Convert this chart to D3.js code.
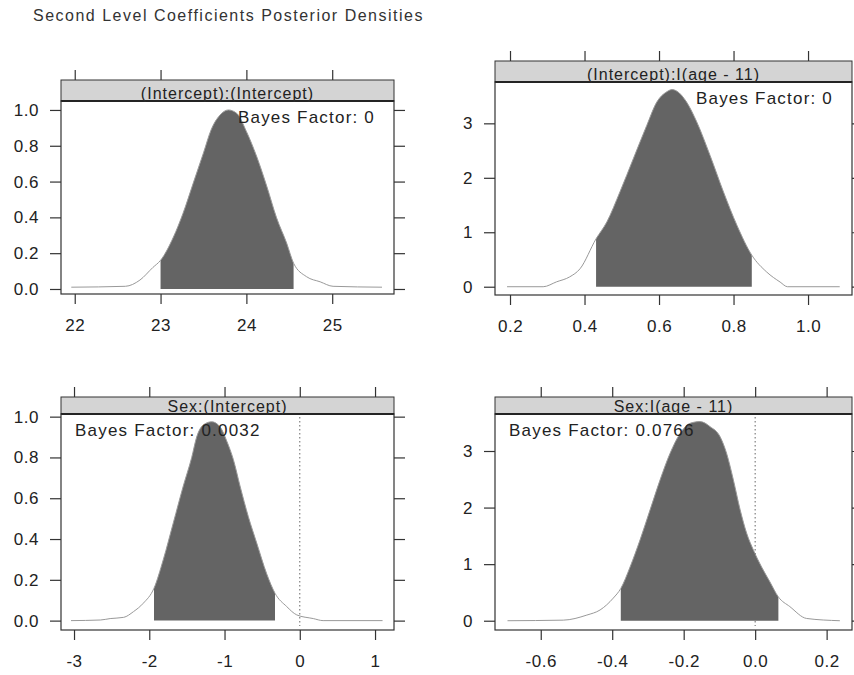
<!DOCTYPE html>
<html>
<head>
<meta charset="utf-8">
<script src="https://cdn.jsdelivr.net/npm/d3@7"></script>
<style>
  body { margin: 0; background: #fff; }
  svg text { font-family: "Liberation Sans", Arial, sans-serif; }
</style>
</head>
<body>
<script>
// posterior densities of the second level coefficients

var chartTitle = 'Second Level Coefficients Posterior Densities';

var stripLabels = ['(Intercept):(Intercept)', '(Intercept):I(age - 11)', 'Sex:(Intercept)', 'Sex:I(age - 11)'];
var bayesLabels = ['Bayes Factor: 0', 'Bayes Factor: 0', 'Bayes Factor: 0.0032', 'Bayes Factor: 0.0766'];

var xTicks1 = [22, 23, 24, 25];
var yTicks1 = [0, 0.2, 0.4, 0.6, 0.8, 1.0];
var dens1X = [21.96, 22.59, 22.76, 22.91, 23.0, 23.15, 23.26, 23.38, 23.50, 23.59, 23.69, 23.79, 23.89, 24.0, 24.12, 24.24, 24.35, 24.47, 24.55, 24.70, 24.86, 25.01, 25.58];
var dens1Y = [0.01, 0.015, 0.05, 0.12, 0.16, 0.29, 0.42, 0.59, 0.76, 0.89, 0.97, 1.0, 0.98, 0.88, 0.74, 0.57, 0.40, 0.255, 0.144, 0.069, 0.04, 0.015, 0.01];
var hpd1 = [23.0, 24.55];

var xTicks2 = [0.2, 0.4, 0.6, 0.8, 1.0];
var yTicks2 = [0, 1, 2, 3];
var dens2X = [0.192, 0.289, 0.325, 0.36, 0.388, 0.431, 0.46, 0.495, 0.531, 0.567, 0.594, 0.621, 0.635, 0.648, 0.674, 0.701, 0.737, 0.773, 0.809, 0.849, 0.889, 0.925, 0.945, 1.085];
var dens2Y = [0, 0, 0.09, 0.18, 0.33, 0.88, 1.19, 1.74, 2.35, 2.96, 3.39, 3.58, 3.62, 3.59, 3.39, 3.03, 2.41, 1.74, 1.13, 0.58, 0.27, 0.086, 0, 0];
var hpd2 = [0.431, 0.849];

var xTicks3 = [-3, -2, -1, 0, 1];
var yTicks3 = [0, 0.2, 0.4, 0.6, 0.8, 1.0];
var dens3X = [-3.04, -2.65, -2.52, -2.34, -2.21, -2.08, -1.937, -1.813, -1.68, -1.548, -1.436, -1.37, -1.28, -1.17, -1.06, -0.97, -0.883, -0.794, -0.684, -0.572, -0.44, -0.329, -0.174, -0.04, 0.18, 0.31, 1.10];
var dens3Y = [0, 0.003, 0.01, 0.016, 0.044, 0.085, 0.159, 0.30, 0.48, 0.66, 0.80, 0.90, 0.96, 0.975, 0.95, 0.88, 0.79, 0.66, 0.51, 0.38, 0.23, 0.134, 0.069, 0.028, 0.01, 0, 0];
var hpd3 = [-1.937, -0.329];

var xTicks4 = [-0.6, -0.4, -0.2, 0.0, 0.2];
var yTicks4 = [0, 1, 2, 3];
var dens4X = [-0.693, -0.537, -0.471, -0.434, -0.397, -0.376, -0.350, -0.322, -0.294, -0.266, -0.238, -0.210, -0.182, -0.154, -0.126, -0.098, -0.080, -0.061, -0.042, -0.024, -0.005, 0.018, 0.041, 0.065, 0.097, 0.144, 0.237];
var dens4Y = [0, 0.01, 0.10, 0.19, 0.40, 0.57, 0.95, 1.43, 1.96, 2.49, 2.96, 3.31, 3.49, 3.52, 3.43, 3.25, 2.96, 2.49, 1.96, 1.55, 1.25, 0.95, 0.69, 0.42, 0.25, 0.04, 0];
var hpd4 = [-0.376, 0.065];

var width = 854, height = 675;

var svg = d3.select('body').append('svg')
  .attr('width', width)
  .attr('height', height);

svg.append('text')
  .attr('x', 33)
  .attr('y', 21)
  .attr('font-size', 16)
  .attr('letter-spacing', 1.5)
  .attr('fill', '#333')
  .text(chartTitle);

var panels = [
  {left: 61, right: 394, stripTop: 80, top: 101, bottom: 294, xDom: [21.84, 25.72], yDom: [-0.028, 1.05],
   xTicks: xTicks1, yTicks: yTicks1, xs: dens1X, ys: dens1Y, hpd: hpd1, yFmt: d3.format('.1f'), xFmt: d3.format('d'), bfRight: true, zero: false},
  {left: 495, right: 852, stripTop: 61, top: 82, bottom: 295, xDom: [0.1597, 1.118], yDom: [-0.152, 3.759],
   xTicks: xTicks2, yTicks: yTicks2, xs: dens2X, ys: dens2Y, hpd: hpd2, yFmt: d3.format('d'), xFmt: d3.format('.1f'), bfRight: true, zero: false},
  {left: 61, right: 394, stripTop: 397, top: 414, bottom: 630, xDom: [-3.173, 1.252], yDom: [-0.046, 1.013],
   xTicks: xTicks3, yTicks: yTicks3, xs: dens3X, ys: dens3Y, hpd: hpd3, yFmt: d3.format('.1f'), xFmt: d3.format('d'), bfRight: false, zero: true},
  {left: 495, right: 852, stripTop: 397, top: 414, bottom: 630, xDom: [-0.728, 0.271], yDom: [-0.164, 3.654],
   xTicks: xTicks4, yTicks: yTicks4, xs: dens4X, ys: dens4Y, hpd: hpd4, yFmt: d3.format('d'), xFmt: d3.format('.1f'), bfRight: false, zero: true}
];

var minusFmt = function(f) {
  return function(d) { return f(d).replace('\u2212', '-'); };
};

panels.forEach(function(p, i) {
  var x = d3.scaleLinear().domain(p.xDom).range([p.left, p.right]);
  var y = d3.scaleLinear().domain(p.yDom).range([p.bottom, p.top]);
  var pts = p.xs.map(function(v, k) { return [v, p.ys[k]]; });

  var g = svg.append('g');

  // clip for the shaded interval
  var clipId = 'hpd' + i;
  svg.append('clipPath').attr('id', clipId)
    .append('rect')
    .attr('x', x(p.hpd[0]))
    .attr('y', p.top)
    .attr('width', x(p.hpd[1]) - x(p.hpd[0]))
    .attr('height', p.bottom - p.top);

  var area = d3.area()
    .x(function(d) { return x(d[0]); })
    .y0(y(0))
    .y1(function(d) { return y(d[1]); })
    .curve(d3.curveMonotoneX);

  var line = d3.line()
    .x(function(d) { return x(d[0]); })
    .y(function(d) { return y(d[1]); })
    .curve(d3.curveMonotoneX);

  g.append('path')
    .datum(pts)
    .attr('clip-path', 'url(#' + clipId + ')')
    .attr('d', area)
    .attr('fill', '#646464');

  g.append('path')
    .datum(pts)
    .attr('d', line)
    .attr('fill', 'none')
    .attr('stroke', '#999')
    .attr('stroke-width', 1);

  if (p.zero) {
    g.append('line')
      .attr('x1', x(0)).attr('x2', x(0))
      .attr('y1', p.top + 3).attr('y2', p.bottom - 4)
      .attr('stroke', '#666')
      .attr('stroke-width', 1)
      .attr('stroke-dasharray', '1.5,2.5');
  }

  // strip
  g.append('rect')
    .attr('x', p.left).attr('y', p.stripTop)
    .attr('width', p.right - p.left).attr('height', p.top - p.stripTop)
    .attr('fill', '#d4d4d4')
    .attr('stroke', '#333')
    .attr('stroke-width', 1);

  g.append('line')
    .attr('x1', p.left).attr('x2', p.right)
    .attr('y1', p.top).attr('y2', p.top)
    .attr('stroke', '#111')
    .attr('stroke-width', 2);

  g.append('text')
    .attr('x', (p.left + p.right) / 2)
    .attr('y', p.top - 2)
    .attr('text-anchor', 'middle')
    .attr('font-size', 16)
    .attr('letter-spacing', 1)
    .attr('fill', '#222')
    .text(stripLabels[i]);

  // panel border
  g.append('rect')
    .attr('x', p.left).attr('y', p.top)
    .attr('width', p.right - p.left).attr('height', p.bottom - p.top)
    .attr('fill', 'none')
    .attr('stroke', '#333')
    .attr('stroke-width', 1.2);

  // bayes factor
  g.append('text')
    .attr('x', p.bfRight ? p.right - 19 : p.left + 14)
    .attr('y', p.top + 22)
    .attr('text-anchor', p.bfRight ? 'end' : 'start')
    .attr('font-size', 17)
    .attr('letter-spacing', 1.2)
    .attr('fill', '#222')
    .text(bayesLabels[i]);

  // axes
  var xb = g.append('g')
    .attr('transform', 'translate(0,' + p.bottom + ')')
    .call(d3.axisBottom(x).tickValues(p.xTicks).tickSize(10).tickPadding(15).tickFormat(minusFmt(p.xFmt)));
  var xt = g.append('g')
    .attr('transform', 'translate(0,' + p.stripTop + ')')
    .call(d3.axisTop(x).tickValues(p.xTicks).tickSize(10).tickFormat(''));
  var yl = g.append('g')
    .attr('transform', 'translate(' + p.left + ',0)')
    .call(d3.axisLeft(y).tickValues(p.yTicks).tickSize(11).tickPadding(11).tickFormat(minusFmt(p.yFmt)));
  var yr = g.append('g')
    .attr('transform', 'translate(' + p.right + ',0)')
    .call(d3.axisRight(y).tickValues(p.yTicks).tickSize(11).tickFormat(''));

  [xb, xt, yl, yr].forEach(function(a) {
    a.select('.domain').remove();
    a.selectAll('line').attr('stroke', '#333').attr('stroke-width', 1.2);
    a.selectAll('text')
      .attr('font-size', 17)
      .attr('letter-spacing', 0.5)
      .attr('fill', '#222')
      .style('font-family', '"Liberation Sans", Arial, sans-serif');
  });
});
</script>
</body>
</html>
